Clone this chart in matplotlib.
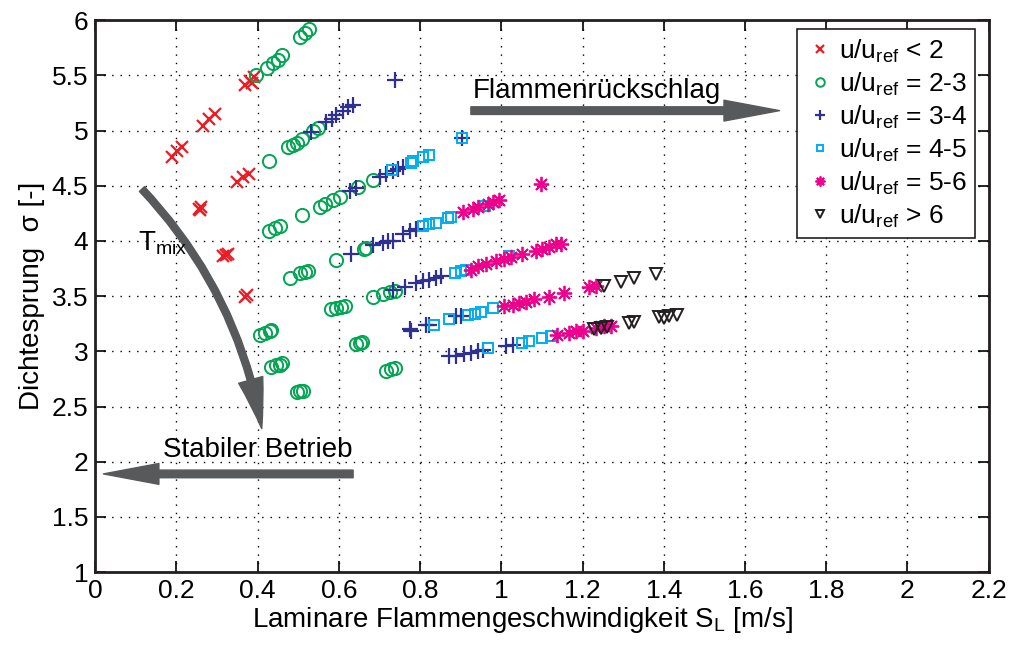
import numpy as np
import matplotlib
matplotlib.use('Agg')
import matplotlib.pyplot as plt
from matplotlib import rc

# colors (print-like CMYK tones)
Red = '#ed1c24'
Green = '#00a651'
Navy = '#2e3192'
Cyan = '#00aeef'
Magenta = '#ec008c'
Black = '#231f20'
Arrow = '#58595b'

# u/u_ref < 2
x_lt2 = [0.188, 0.202, 0.213, 0.265, 0.281, 0.295, 0.369, 0.381, 0.391, 0.385,
         0.348, 0.363, 0.379, 0.255, 0.260, 0.258, 0.315, 0.328, 0.322, 0.368, 0.374]
y_lt2 = [4.757, 4.81, 4.85, 5.045, 5.106, 5.15, 5.41, 5.45, 5.485, 5.43,
         4.53, 4.575, 4.61, 4.29, 4.31, 4.28, 3.86, 3.88, 3.87, 3.49, 3.51]

# u/u_ref = 2-3
x_23 = [0.505, 0.516, 0.527, 0.422, 0.438, 0.449, 0.459, 0.395,
        0.428, 0.475, 0.487, 0.497, 0.508, 0.536, 0.549,
        0.428, 0.442, 0.455, 0.508, 0.553, 0.565, 0.586, 0.602, 0.647, 0.684,
        0.479, 0.504, 0.516, 0.524, 0.594, 0.663, 0.667,
        0.405, 0.418, 0.430, 0.434, 0.434, 0.446, 0.455, 0.461, 0.496, 0.505, 0.512,
        0.581, 0.594, 0.604, 0.614, 0.643, 0.653, 0.658,
        0.685, 0.708, 0.725, 0.737, 0.717, 0.729, 0.737]
y_23 = [5.85, 5.885, 5.92, 5.57, 5.61, 5.64, 5.68, 5.50,
        4.727, 4.85, 4.87, 4.89, 4.92, 5.0, 5.025,
        4.09, 4.12, 4.136, 4.236, 4.31, 4.33, 4.37, 4.40, 4.49, 4.55,
        3.66, 3.71, 3.72, 3.727, 3.83, 3.925, 3.94,
        3.15, 3.17, 3.18, 3.19, 2.86, 2.88, 2.88, 2.89, 2.63, 2.64, 2.64,
        3.38, 3.39, 3.40, 3.41, 3.07, 3.08, 3.085,
        3.49, 3.52, 3.54, 3.55, 2.82, 2.84, 2.85]

# u/u_ref = 3-4
x_34 = [0.532, 0.569, 0.582, 0.594, 0.610, 0.622, 0.635, 0.737,
        0.627, 0.643, 0.700, 0.717, 0.733, 0.745, 0.758, 0.903,
        0.631, 0.684, 0.708, 0.720, 0.733, 0.758, 0.774, 0.790,
        0.733, 0.762, 0.790, 0.807, 0.823, 0.840, 0.852,
        0.774, 0.778, 0.815, 0.823, 0.889, 0.900,
        0.872, 0.889, 0.909, 0.925, 0.942, 0.954, 1.011, 1.028]
y_34 = [4.985, 5.075, 5.106, 5.136, 5.18, 5.21, 5.227, 5.46,
        4.45, 4.48, 4.58, 4.61, 4.636, 4.65, 4.67, 4.93,
        3.88, 3.96, 3.985, 4.0, 4.0, 4.06, 4.09, 4.106,
        3.56, 3.58, 3.62, 3.636, 3.65, 3.667, 3.68,
        3.20, 3.18, 3.24, 3.236, 3.32, 3.32,
        2.955, 2.96, 2.975, 2.985, 3.0, 3.015, 3.045, 3.06]

# u/u_ref = 4-5
x_45 = [0.730, 0.778, 0.782, 0.807, 0.823, 0.903,
        0.807, 0.823, 0.840, 0.868, 0.876, 0.960,
        0.885, 0.900, 0.913, 1.020,
        0.834, 0.872, 0.917, 0.934, 0.950, 0.979,
        0.966, 1.052, 1.069, 1.101, 1.122]
y_45 = [4.64, 4.71, 4.72, 4.76, 4.78, 4.93,
        4.136, 4.157, 4.166, 4.206, 4.218, 4.32,
        3.71, 3.727, 3.74, 3.86,
        3.24, 3.29, 3.33, 3.34, 3.36, 3.39,
        3.03, 3.075, 3.09, 3.12, 3.14]

# u/u_ref = 5-6
x_56 = [0.905, 0.929, 0.942, 0.966, 0.979, 0.995, 1.098,
        0.925, 0.942, 0.962, 0.987, 1.007, 1.024, 1.052, 1.085, 1.100, 1.118, 1.134, 1.147,
        1.007, 1.028, 1.044, 1.061, 1.081, 1.118, 1.155, 1.216, 1.233,
        1.138, 1.167, 1.183, 1.200, 1.233, 1.253, 1.270]
y_56 = [4.26, 4.29, 4.31, 4.33, 4.35, 4.37, 4.52,
        3.74, 3.77, 3.79, 3.82, 3.84, 3.85, 3.885, 3.91, 3.925, 3.945, 3.97, 3.975,
        3.41, 3.42, 3.44, 3.45, 3.47, 3.49, 3.53, 3.58, 3.59,
        3.15, 3.17, 3.18, 3.18, 3.21, 3.23, 3.23]

# u/u_ref > 6
x_gt6 = [1.253, 1.294, 1.327, 1.381,
         1.229, 1.245, 1.261, 1.314, 1.327, 1.388, 1.400, 1.413, 1.433]
y_gt6 = [3.59, 3.63, 3.66, 3.70,
         3.20, 3.21, 3.22, 3.26, 3.27, 3.31, 3.30, 3.32, 3.33]

labels = [r'u/u$_{\rm ref}$ < 2', r'u/u$_{\rm ref}$ = 2-3', r'u/u$_{\rm ref}$ = 3-4',
          r'u/u$_{\rm ref}$ = 4-5', r'u/u$_{\rm ref}$ = 5-6', r'u/u$_{\rm ref}$ > 6']

rc('font', family=['Liberation Sans', 'DejaVu Sans'], size=17)
rc('mathtext', fontset='custom', rm='Liberation Sans', it='Liberation Sans')

fig = plt.figure(figsize=(10.13, 6.48), dpi=100)
ax = fig.add_axes([0.094, 0.117, 0.882, 0.852])

kw = dict(linestyle='none')
ax.plot(x_lt2, y_lt2, marker='x', ms=9, mew=1.6, color=Red, label=labels[0], **kw)
ax.plot(x_23, y_23, marker='o', ms=9.5, mew=1.4, mfc='none', color=Green, label=labels[1], **kw)
ax.plot(x_34, y_34, marker='+', ms=11, mew=1.6, color=Navy, label=labels[2], **kw)
ax.plot(x_45, y_45, marker='s', ms=7.5, mew=1.4, mfc='none', color=Cyan, label=labels[3], **kw)
ax.plot(x_56, y_56, marker=(8, 2, 0), ms=11, mew=1.3, color=Magenta, label=labels[4], **kw)
ax.plot(x_gt6, y_gt6, marker='v', ms=9, mew=1.4, mfc='none', color=Black, label=labels[5], **kw)

ax.set_xlim(0, 2.2)
ax.set_ylim(1, 6)
ax.set_xticks(np.arange(0, 2.21, 0.2))
ax.set_xticklabels(['0', '0.2', '0.4', '0.6', '0.8', '1', '1.2', '1.4', '1.6', '1.8', '2', '2.2'])
ax.set_yticks(np.arange(1, 6.01, 0.5))
ax.set_yticklabels(['1', '1.5', '2', '2.5', '3', '3.5', '4', '4.5', '5', '5.5', '6'])
ax.tick_params(direction='in', length=8, width=1.2, top=True, right=True, labelsize=19, pad=5)
for s in ax.spines.values():
    s.set_linewidth(2.0)
    s.set_color(Black)
ax.grid(True, linestyle=(0, (1, 5)), color='k', linewidth=1.0)

ax.set_xlabel(r'Laminare Flammengeschwindigkeit S$_{\rm L}$ [m/s]', fontsize=20, labelpad=1)
ax.xaxis.label.set_x(0.478)
ax.set_ylabel(r'Dichtesprung  σ [-]', fontsize=20, labelpad=5)

leg = ax.legend(loc='upper right', bbox_to_anchor=(0.985, 0.983), borderaxespad=0,
                fontsize=19, markerscale=0.65, handlelength=1.15, handletextpad=0.15,
                borderpad=0.3, labelspacing=0.22, fancybox=False, framealpha=1)
leg.get_frame().set_edgecolor(Black)
leg.get_frame().set_linewidth(1.2)

# annotations
ax.text(0.93, 5.36, 'Flammenrückschlag', fontsize=20, va='center', ha='left')
ax.annotate('', xy=(1.685, 5.18), xytext=(0.925, 5.18),
            arrowprops=dict(arrowstyle='simple,head_length=4,head_width=1.5,tail_width=0.55',
                            color=Arrow, mutation_scale=10, shrinkA=0, shrinkB=0))
ax.text(0.168, 2.11, 'Stabiler Betrieb', fontsize=20, va='center', ha='left')
ax.annotate('', xy=(0.02, 1.89), xytext=(0.635, 1.89),
            arrowprops=dict(arrowstyle='simple,head_length=4,head_width=1.5,tail_width=0.55',
                            color=Arrow, mutation_scale=10, shrinkA=0, shrinkB=0))
ax.annotate('', xy=(0.41, 2.3), xytext=(0.115, 4.47),
            arrowprops=dict(arrowstyle='simple,head_length=3.6,head_width=1.8,tail_width=0.5',
                            connectionstyle='arc3,rad=-0.15',
                            color=Arrow, mutation_scale=10, shrinkA=0, shrinkB=0))
ax.text(0.105, 3.98, r'T$_{\rm mix}$', fontsize=20, va='center', ha='left')

fig.savefig('out.png', dpi=100)
